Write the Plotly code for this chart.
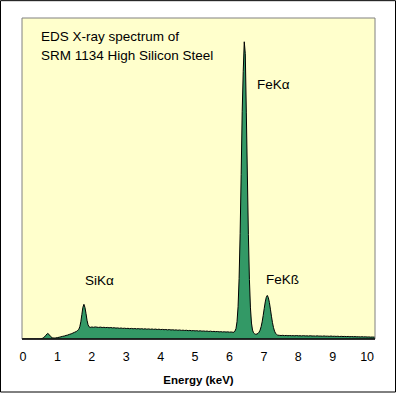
import plotly.graph_objects as go

energy_kev = [
    0.00, 0.10, 0.20, 0.30, 0.40, 0.50, 0.55, 0.60, 0.65, 0.70, 0.72, 0.75, 0.80, 0.85, 0.90, 0.95,
    1.00, 1.05, 1.10, 1.15, 1.20, 1.25, 1.30, 1.35, 1.40, 1.45, 1.50, 1.55,
    1.59, 1.62, 1.65, 1.68, 1.71, 1.74, 1.77, 1.80, 1.83, 1.86, 1.89, 1.92, 1.95,
    2.00, 2.05, 2.10, 2.15, 2.20, 2.25, 2.30, 2.35, 2.40, 2.45, 2.50, 2.55, 2.60, 2.65, 2.70, 2.75,
    2.80, 2.85, 2.90, 2.95, 3.00, 3.05, 3.10, 3.15, 3.20, 3.25, 3.30, 3.35, 3.40, 3.45, 3.50, 3.55,
    3.60, 3.65, 3.70, 3.75, 3.80, 3.85, 3.90, 3.95, 4.00, 4.05, 4.10, 4.15, 4.20, 4.25, 4.30, 4.35,
    4.40, 4.45, 4.50, 4.55, 4.60, 4.65, 4.70, 4.75, 4.80, 4.85, 4.90, 4.95, 5.00, 5.05, 5.10, 5.15,
    5.20, 5.25, 5.30, 5.35, 5.40, 5.45, 5.50, 5.55, 5.60, 5.65, 5.70, 5.75, 5.80, 5.85, 5.90, 5.95,
    6.00, 6.05, 6.10,
    6.13, 6.16, 6.19, 6.22, 6.25, 6.28, 6.31, 6.34, 6.37, 6.40, 6.43, 6.46, 6.49, 6.52, 6.55, 6.58,
    6.61, 6.64, 6.67, 6.70, 6.73, 6.76,
    6.80, 6.83, 6.86, 6.89, 6.92, 6.95, 6.98, 7.01, 7.04, 7.07, 7.10, 7.13, 7.16, 7.19, 7.22, 7.25,
    7.28, 7.31, 7.34, 7.37, 7.40,
    7.45, 7.50, 7.55, 7.60, 7.65, 7.70, 7.75, 7.80, 7.85, 7.90, 7.95, 8.00, 8.05, 8.10, 8.15, 8.20,
    8.25, 8.30, 8.35, 8.40, 8.45, 8.50, 8.55, 8.60, 8.65, 8.70, 8.75, 8.80, 8.85, 8.90, 8.95, 9.00,
    9.05, 9.10, 9.15, 9.20, 9.25, 9.30, 9.35, 9.40, 9.45, 9.50, 9.55, 9.60, 9.65, 9.70, 9.75, 9.80,
    9.85, 9.90, 9.95, 10.00, 10.05, 10.10, 10.15, 10.20, 10.25,
]

counts = [
    0, 0, 0, 0, 0, 0, 4, 14, 32, 52, 56, 48, 26, 12, 9, 11,
    14, 18, 22, 27, 30, 36, 40, 47, 52, 60, 68, 76,
    88, 97, 124, 174, 248, 320, 350, 318, 258, 189, 144, 123, 117,
    121, 118, 122, 119, 117, 120, 116, 118, 115, 117, 113, 116, 112, 114, 110, 112,
    108, 111, 107, 109, 106, 108, 104, 107, 103, 106, 102, 105, 101, 104, 100, 103,
    99, 102, 98, 101, 97, 100, 96, 99, 95, 97, 94, 96, 92, 95, 91, 93,
    90, 92, 88, 91, 87, 89, 86, 88, 84, 87, 83, 85, 82, 84, 80, 83,
    79, 81, 78, 80, 76, 79, 75, 77, 74, 76, 72, 74, 71, 73, 70, 72,
    69, 71, 68,
    68, 80, 106, 175, 326, 611, 1063, 1661, 2294, 2700, 3000, 2880, 2290, 1655, 1055, 601,
    314, 161, 90, 63, 53, 48,
    50, 57, 69, 89, 124, 173, 237, 307, 374, 421, 440, 418, 369, 301, 230, 165,
    115, 79, 58, 46, 39,
    37, 35, 37, 34, 36, 33, 35, 33, 34, 32, 35, 32, 33, 31, 34, 31,
    32, 30, 33, 30, 31, 29, 32, 29, 30, 28, 31, 28, 29, 27, 30, 27,
    28, 26, 28, 25, 27, 25, 26, 24, 26, 23, 25, 23, 24, 22, 23, 21,
    23, 21, 22, 20, 21, 19, 20, 19, 18,
]

tick_values = [0, 1, 2, 3, 4, 5, 6, 7, 8, 9, 10]
tick_labels = ["0", "1", "2", "3", "4", "5", "6", "7", "8", "9", "10"]

title_line1 = "EDS X-ray spectrum of"
title_line2 = "SRM 1134 High Silicon Steel"
peak_labels = ["SiKα", "FeKα", "FeKß"]

W, H = 396, 396
L, R, T, B = 22, 21, 18, 54
PW, PH = W - L - R, H - T - B


def px(x):
    return (x - L) / PW


def py(y):
    return (H - B - y) / PH


FONT = "Liberation Sans, Arial, sans-serif"

fig = go.Figure()
fig.add_trace(go.Scatter(
    x=energy_kev, y=counts, mode="lines",
    line=dict(color="black", width=1, simplify=False),
    fill="tozeroy", fillcolor="#339966",
    hoverinfo="skip", showlegend=False,
))

annotations = [
    dict(text=title_line1, x=px(39), y=py(37), xanchor="left", yanchor="middle"),
    dict(text=title_line2, x=px(39), y=py(56), xanchor="left", yanchor="middle"),
    dict(text=peak_labels[0], x=px(83), y=py(283), xanchor="left", yanchor="middle"),
    dict(text=peak_labels[1], x=px(255), y=py(85), xanchor="left", yanchor="middle"),
    dict(text=peak_labels[2], x=px(264), y=py(282), xanchor="left", yanchor="middle"),
]
for a in annotations:
    a.update(xref="paper", yref="paper", showarrow=False,
             font=dict(family=FONT, size=13.5, color="black"))

shapes = [
    dict(type="rect", xref="paper", yref="paper", x0=0, x1=1, y0=0, y1=1,
         line=dict(color="#808080", width=1), layer="above"),
    dict(type="line", xref="paper", yref="paper", x0=0, x1=1, y0=0, y1=0,
         line=dict(color="black", width=1.5), layer="above"),
    dict(type="rect", xref="paper", yref="paper",
         x0=px(0.5), x1=px(395.5), y0=py(395.5), y1=py(0.5),
         line=dict(color="black", width=1), layer="above"),
]

fig.update_layout(
    width=W, height=H,
    margin=dict(l=L, r=R, t=T, b=B, pad=0),
    paper_bgcolor="white",
    plot_bgcolor="#FFFFCC",
    annotations=annotations,
    shapes=shapes,
    font=dict(family=FONT, size=12, color="black"),
    xaxis=dict(
        range=[-0.03, 10.23], tickvals=tick_values, ticktext=tick_labels,
        showgrid=False, zeroline=False, showline=False,
        ticks="outside", ticklen=6, tickcolor="rgba(0,0,0,0)",
        tickfont=dict(family=FONT, size=12.5, color="black"),
        title=dict(text="<b>Energy (keV)</b>", standoff=12,
                   font=dict(family=FONT, size=11.5, color="black")),
    ),
    yaxis=dict(
        range=[0, 3240], showticklabels=False, showgrid=False,
        zeroline=False, showline=False, ticks="",
    ),
)

fig.write_html(
    "out.html",
    config={"displayModeBar": False},
    post_script="document.body.style.margin='0';document.body.style.overflow='hidden';",
)
